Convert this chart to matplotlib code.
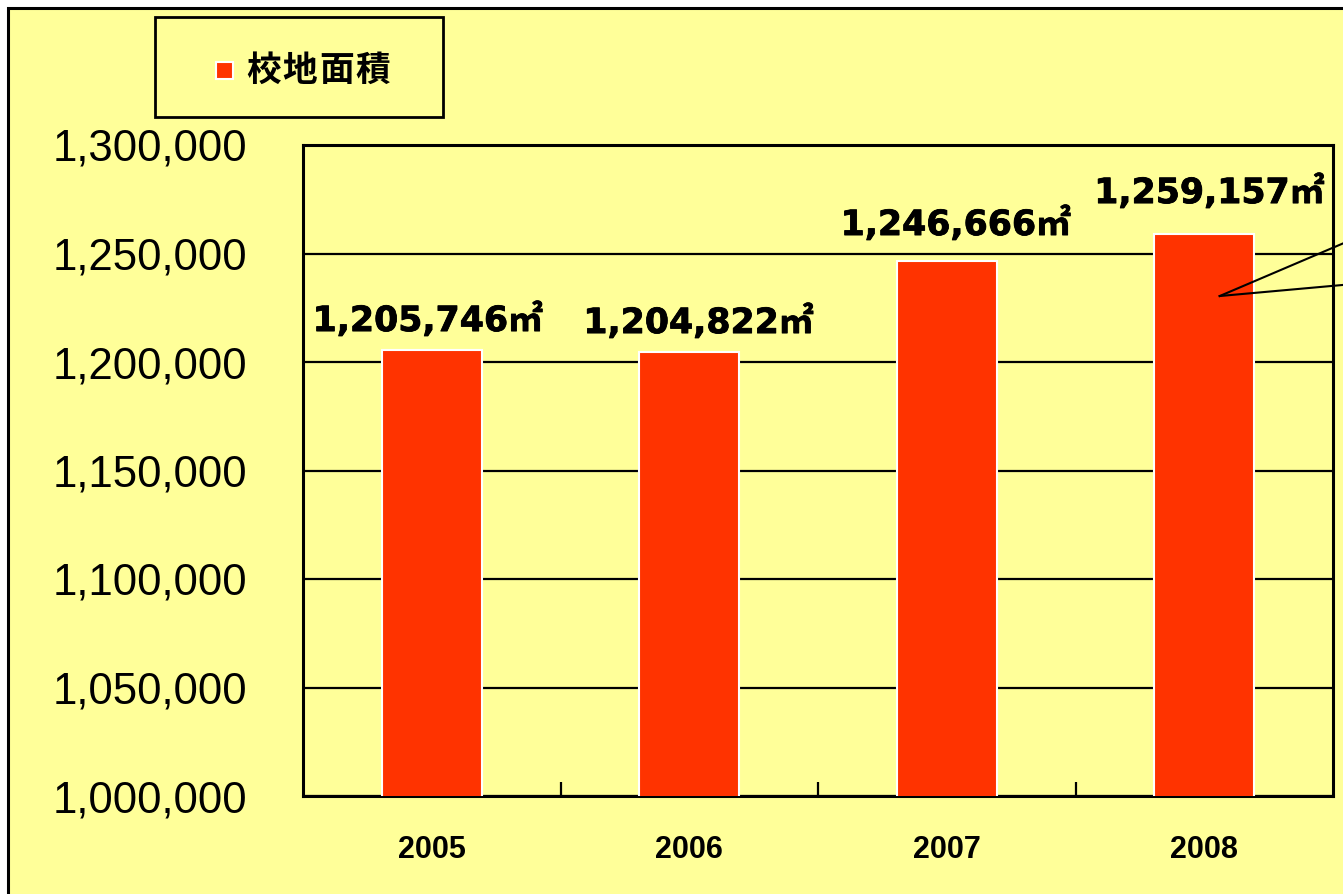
import matplotlib
matplotlib.use("Agg")
import matplotlib.pyplot as plt
from matplotlib.patches import Rectangle
from matplotlib.lines import Line2D
import matplotlib.patheffects as pe

# ---- data ----
years = ["2005", "2006", "2007", "2008"]
areas = [1205746, 1204822, 1246666, 1259157]
series_name = "校地面積"
unit = "㎡"
y_ticks = [1000000, 1050000, 1100000, 1150000, 1200000, 1250000, 1300000]
# leader lines (data coords) running off the right edge
leader_origin = (3.06, 1230400)
leader_ends = [(3.752, 1265438), (3.752, 1237788)]

# label placement offsets (points) as placed by hand in the original
label_dx = [-3, 6.5, 6.5, 3.5]
label_dy = [13.3, 13.3, 18.5, 22]

BG = "#FFFF99"
BAR = "#FF3300"
W, H = 1343, 894

fig = plt.figure(figsize=(W / 100, H / 100), dpi=100)
fig.patch.set_facecolor("white")

# outer chart frame
fig.patches.append(Rectangle((8 / W, -0.2), 1.5, (H - 8) / H + 0.2,
                             transform=fig.transFigure, facecolor=BG,
                             edgecolor="black", linewidth=2.2, zorder=-5))

ax = fig.add_axes([303 / W, 1 - 796 / H, (1333 - 303) / W, (796 - 145) / H])
ax.set_zorder(1)
ax.set_facecolor(BG)

x = list(range(len(years)))
ax.bar(x, areas, width=0.39, color=BAR, edgecolor="white", linewidth=1.5, zorder=3)

ax.set_xlim(-0.5, 3.5)
ax.set_ylim(y_ticks[0], y_ticks[-1])
ax.set_yticks(y_ticks)
ax.set_yticklabels([f"{v:,}" for v in y_ticks], family="Liberation Sans", fontsize=31.5)
ax.tick_params(axis="y", length=0, pad=40)
ax.grid(axis="y", color="black", linewidth=1.6, zorder=1)
ax.set_axisbelow(True)

ax.set_xticks(x)
ax.set_xticklabels(years, family="Liberation Sans", fontweight="bold", fontsize=22)
ax.tick_params(axis="x", which="major", length=0, pad=28)
ax.set_xticks([0.5, 1.5, 2.5], minor=True)
ax.tick_params(axis="x", which="minor", direction="in", length=10, width=1.6)

for s in ax.spines.values():
    s.set_linewidth(2.2)
    s.set_color("black")

for xi, v, dx, dy in zip(x, areas, label_dx, label_dy):
    ax.annotate(f"{v:,}{unit}", (xi, v), xytext=(dx, dy), textcoords="offset points",
                ha="center", va="baseline", fontsize=25, fontweight="bold",
                family=["DejaVu Sans", "Noto Sans CJK JP"], zorder=4,
                path_effects=[pe.withStroke(linewidth=0.6, foreground="black")])

for ex, ey in leader_ends:
    ax.add_line(Line2D([leader_origin[0], ex], [leader_origin[1], ey], color="black",
                       linewidth=1.5, clip_on=False, zorder=5))

# legend box
fig.patches.append(Rectangle((155 / W, 1 - 117 / H), 288 / W, 100 / H,
                             transform=fig.transFigure, facecolor=BG,
                             edgecolor="black", linewidth=2.0, zorder=2))
fig.patches.append(Rectangle((216 / W, 1 - 79 / H), 17 / W, 17 / H,
                             transform=fig.transFigure, facecolor=BAR,
                             edgecolor="white", linewidth=1.5, zorder=3))
for i, ch in enumerate(series_name):
    fig.text((246 + i * 36.5) / W, 1 - 70 / H, ch, ha="left", va="center",
             fontsize=25, fontweight="bold", family=["Noto Sans CJK JP", "DejaVu Sans"],
             zorder=4)

fig.savefig("out.png", dpi=100, facecolor=fig.get_facecolor())
